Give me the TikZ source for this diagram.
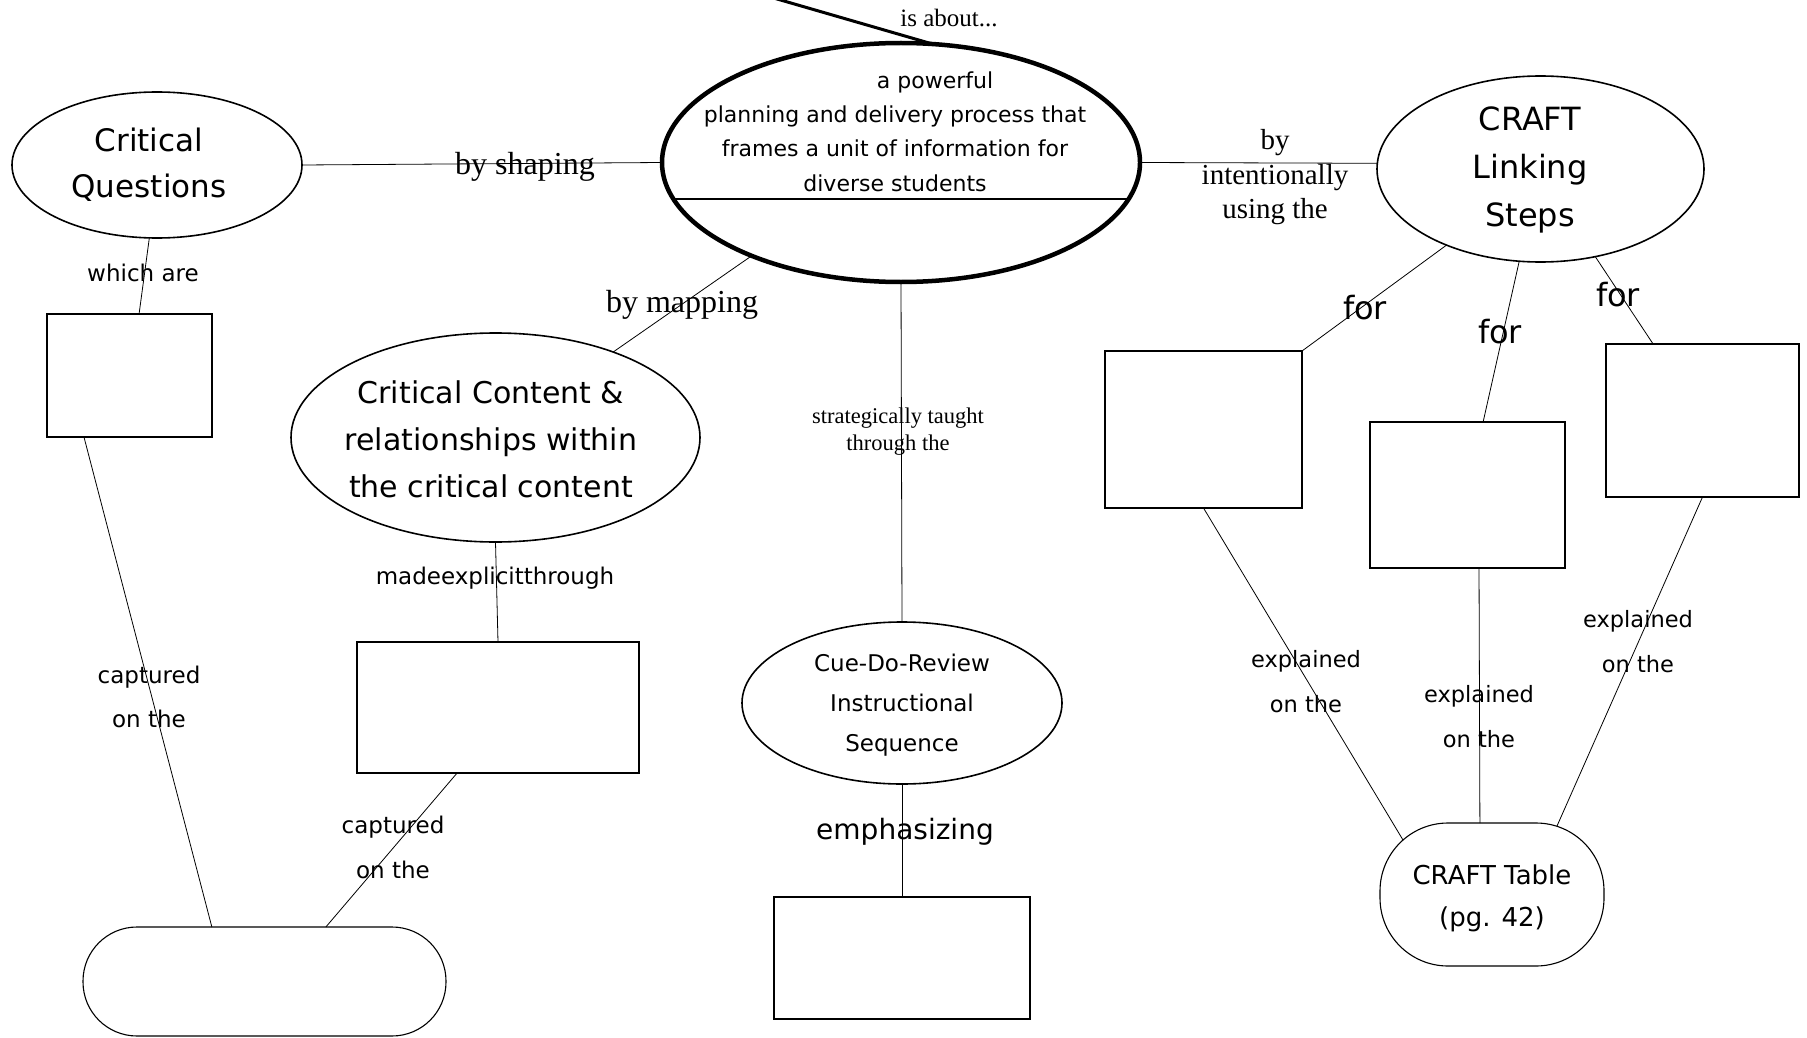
\documentclass[tikz,border=0pt]{standalone}
\usepackage{fontspec}
\newfontfamily\comicf{DejaVu Sans}
\newfontfamily\timesf{Liberation Serif}
\usetikzlibrary{shapes.geometric,calc}
\newcommand\fs[2]{\fontsize{#1}{#2}\selectfont}
\begin{document}
\begin{tikzpicture}[x=1pt,y=-1pt,
  ell/.style={draw, ellipse, inner sep=0pt, outer sep=0pt, line width=1.6pt},
  boxs/.style={draw, rectangle, inner sep=0pt, outer sep=0pt, line width=1.1pt},
  pillbox/.style={draw, rectangle, inner sep=0pt, outer sep=0pt, line width=1.1pt},
  conn/.style={line width=0.8pt},
  lbl/.style={inner sep=0pt, align=center},
]
\useasboundingbox (0,0) rectangle (1807,1038);
\fill[white] (0,0) rectangle (1807,1038);

% shapes
\node[ell, line width=4.5pt, minimum width=478pt, minimum height=239pt] (main) at (901,162.5) {};
\node[ell, minimum width=290pt, minimum height=146pt] (cq) at (157,165) {};
\node[boxs, minimum width=165pt, minimum height=123pt] (b1) at (129.5,375.5) {};
\node[ell, minimum width=409pt, minimum height=209pt] (cc) at (495.5,437.5) {};
\node[boxs, minimum width=282pt, minimum height=131pt] (b2) at (498,707.5) {};
\node[pillbox, rounded corners=54pt, minimum width=363pt, minimum height=109pt] (pill) at (264.5,981.5) {};
\node[ell, minimum width=320pt, minimum height=162pt] (cdr) at (902,703) {};
\node[boxs, minimum width=256pt, minimum height=122pt] (b3) at (902,958) {};
\node[ell, minimum width=327pt, minimum height=186pt] (craft) at (1540.5,169) {};
\node[boxs, minimum width=197pt, minimum height=157pt] (b4) at (1203.5,429.5) {};
\node[boxs, minimum width=195pt, minimum height=146pt] (b5) at (1467.5,495) {};
\node[boxs, minimum width=193pt, minimum height=153pt] (b6) at (1702.5,420.5) {};
\node[pillbox, rounded corners=68pt, minimum width=224pt, minimum height=143pt] (ctab) at (1492,894.5) {};

% divider inside main ellipse
\draw[line width=1.5pt] ($(main.center)+(-227,36.5)$) -- ($(main.center)+(227,36.5)$);

% incoming connector from outside the picture
\coordinate (offtop) at (632,-43);
\draw[line width=3pt] (main.75.5) -- (offtop);

% connectors
\draw[conn] (cq.east) -- (main.west);
\draw[conn] (cq.264) -- ($(b1.north west)!0.558!(b1.north east)$);
\draw[conn] ($(b1.south west)!0.224!(b1.south east)$) -- ($(pill.north west)!0.355!(pill.north east)$);
\draw[conn] ($(b2.south west)!0.355!(b2.south east)$) -- ($(pill.north west)!0.669!(pill.north east)$);
\draw[conn] (main.212.3) -- (cc.36.4);
\draw[conn] (cc.south) -- (b2.north);
\draw[conn] (main.south) -- (cdr.north);
\draw[conn] (cdr.south) -- (b3.north);
\draw[conn] (main.east) -- (craft.178.5);
\draw[conn] (craft.219.2) -- (b4.north east);
\draw[conn] (craft.257.6) -- ($(b5.north west)!0.58!(b5.north east)$);
\draw[conn] (craft.302.7) -- ($(b6.north west)!0.244!(b6.north east)$);
\draw[conn] (b4.south) -- ([xshift=23pt,yshift=-17pt]ctab.north west);
\draw[conn] ($(b5.south west)!0.559!(b5.south east)$) -- ($(ctab.north west)!0.446!(ctab.north east)$);
\draw[conn] (b6.south) -- ([xshift=-47pt,yshift=-3pt]ctab.north east);

% texts of shapes
\node[lbl, font={\comicf\fs{31}{46}}] (cqt) at (149,165) {Critical\\Questions};
\node[lbl, font={\comicf\fs{22}{34.3}}] (maint) at (895,131.5) {\hspace*{80pt}a powerful\\planning and delivery process that\\frames a unit of information for\\diverse students};
\node[lbl, font={\comicf\fs{30}{47}}] (cct) at (491,439) {Critical Content \&\\relationships within\\the critical content};
\node[lbl, font={\comicf\fs{23}{40}}] (cdrt) at (902,705) {Cue-Do-Review\\Instructional\\Sequence};
\node[lbl, font={\comicf\fs{32}{48}}] (craftt) at (1530,170) {CRAFT\\Linking\\Steps};
\node[lbl, font={\comicf\fs{26}{42}}] (ctabt) at (1492,898) {CRAFT Table\\(pg. 42)};

% connector labels
\node[lbl, font={\timesf\fs{25}{30}}] (l1) at (949,18) {is about...};
\node[lbl, font={\timesf\fs{32}{38}}] (l2) at (525,167) {by shaping};
\node[lbl, font={\timesf\fs{32}{38}}] (l3) at (682,305) {by mapping};
\node[lbl, font={\timesf\fs{29}{34.5}}] (l4) at (1275,177.5) {by\\intentionally\\using the};
\node[lbl, font={\timesf\fs{22.5}{27}}] (l5) at (898,432) {strategically taught\\through the};
\node[lbl, font={\comicf\fs{23}{28}}] (l6) at (143,273) {which are};
\node[lbl, font={\comicf\fs{23}{28}}] (l7) at (495,578) {madeexplicitthrough};
\node[lbl, font={\comicf\fs{23}{44}}] (l8) at (149,697) {captured\\on the};
\node[lbl, font={\comicf\fs{23}{45}}] (l9) at (393,847) {captured\\on the};
\node[lbl, font={\comicf\fs{28}{34}}] (l10) at (905,832) {emphasizing};
\node[lbl, font={\comicf\fs{32}{38}}] (l11) at (1365,308) {for};
\node[lbl, font={\comicf\fs{32}{38}}] (l12) at (1500,332) {for};
\node[lbl, font={\comicf\fs{32}{38}}] (l13) at (1618,295) {for};
\node[lbl, font={\comicf\fs{22.5}{45}}] (l14) at (1306,682) {explained\\on the};
\node[lbl, font={\comicf\fs{22.5}{45}}] (l15) at (1479,717) {explained\\on the};
\node[lbl, font={\comicf\fs{22.5}{45}}] (l16) at (1638,642) {explained\\on the};
\end{tikzpicture}
\end{document}
